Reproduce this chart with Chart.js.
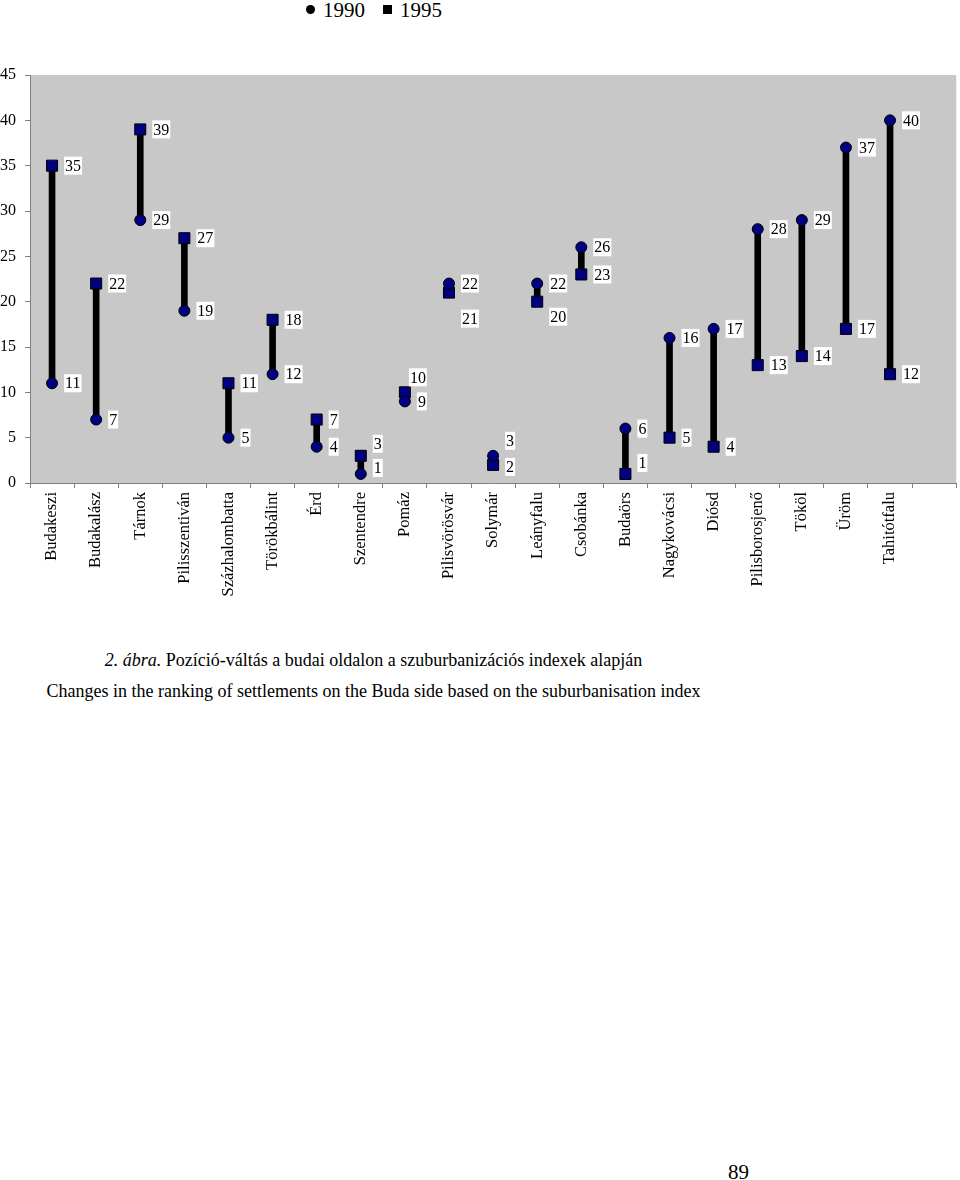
<!DOCTYPE html>
<html>
<head>
<meta charset="utf-8">
<script src="https://cdn.jsdelivr.net/npm/chart.js@4.4.1/dist/chart.umd.min.js"></script>
<style>
  html, body { margin: 0; padding: 0; background: #fff; }
  body { width: 960px; height: 1180px; position: relative; overflow: hidden;
         font-family: 'Liberation Serif', 'Times New Roman', serif; color: #000; }
  #chartBox { position: absolute; left: 0; top: 0; width: 965px; height: 620px; }
  #legend { position: absolute; top: -2px; left: 306px; font-size: 21px; white-space: nowrap; }
  #legend span.item { display: inline-block; }
  #legend span.item + span.item { margin-left: 18px; }
  #legend i.mk { display: inline-block; width: 9px; height: 9px; background: #000; margin-right: 8px; vertical-align: 3px; }
  #legend i.circle { border-radius: 50%; }
  .cap { position: absolute; left: 0; width: 747px; text-align: center; font-size: 18px; white-space: nowrap; }
  #cap1 { top: 650px; }
  #cap2 { top: 681px; }
  #page { position: absolute; left: 728px; top: 1160px; font-size: 21px; }
</style>
</head>
<body>
<div id="legend"><span class="item"><i class="mk circle"></i>1990</span><span class="item"><i class="mk"></i>1995</span></div>
<div id="chartBox"><canvas id="c" width="965" height="620"></canvas></div>
<div class="cap" id="cap1"><i>2. ábra.</i> Pozíció-váltás a budai oldalon a szuburbanizációs indexek alapján</div>
<div class="cap" id="cap2">Changes in the ranking of settlements on the Buda side based on the suburbanisation index</div>
<div id="page">89</div>
<script>
const categories = ['Budakeszi','Budakalász','Tárnok','Pilisszentiván','Százhalombatta','Törökbálint','Érd','Szentendre','Pomáz','Pilisvörösvár','Solymár','Leányfalu','Csobánka','Budaörs','Nagykovácsi','Diósd','Pilisborosjenő','Tököl','Üröm','Tahitótfalu',''];
const values1990 = [11, 7, 29, 19, 5, 12, 4, 1, 9, 22, 3, 22, 26, 6, 16, 17, 28, 29, 37, 40];
const values1995 = [35, 22, 39, 27, 11, 18, 7, 3, 10, 21, 2, 20, 23, 1, 5, 4, 13, 14, 17, 12];
const seriesNames = ['1990', '1995'];
const yTicks = { min: 0, max: 45, step: 5 };

const FONT = "'Liberation Serif', 'Times New Roman', serif";
const ranges = values1990.map((v, i) => [Math.min(v, values1995[i]), Math.max(v, values1995[i])]);

// label pixel nudges: key "seriesIndex:categoryIndex" -> [dx, dy]
const labelNudges = {
  '1:7': [0, -12], '0:7': [0, -6],
  '1:8': [-8, -15],
  '1:9': [0, 26],
  '0:10': [0, -15], '1:10': [0, 2],
  '1:11': [0, 15],
  '1:13': [0, -11]
};

const bgPlugin = {
  id: 'plotBg',
  beforeDraw(chart) {
    const a = chart.chartArea, ctx = chart.ctx;
    ctx.save();
    ctx.fillStyle = '#c8c8c8';
    ctx.fillRect(a.left, a.top, a.right - a.left, a.bottom - a.top);
    ctx.restore();
  }
};

const labelPlugin = {
  id: 'valueLabels',
  afterDatasetsDraw(chart) {
    const ctx = chart.ctx;
    ctx.save();
    ctx.font = '16px ' + FONT;
    ctx.textBaseline = 'middle';
    ctx.textAlign = 'left';
    [0, 1].forEach(s => {
      const ds = chart.data.datasets[s];
      const meta = chart.getDatasetMeta(s);
      ds.data.forEach((v, i) => {
        if (v === null || v === undefined) return;
        const pt = meta.data[i];
        const n = labelNudges[s + ':' + i] || [0, 0];
        const txt = String(v);
        const w = ctx.measureText(txt).width;
        const bx = pt.x + 12 + n[0];
        const by = pt.y + n[1];
        ctx.fillStyle = '#ffffff';
        ctx.fillRect(bx, by - 9, w + 2, 18);
        ctx.fillStyle = '#000000';
        ctx.fillText(txt, bx + 1, by + 1);
      });
    });
    ctx.restore();
  }
};

new Chart(document.getElementById('c'), {
  type: 'bar',
  data: {
    labels: categories,
    datasets: [
      {
        type: 'line', label: seriesNames[0], data: values1990, order: 1,
        showLine: false, pointStyle: 'circle', pointRadius: 5.5,
        pointBackgroundColor: '#000080', pointBorderColor: '#000000', pointBorderWidth: 1
      },
      {
        type: 'line', label: seriesNames[1], data: values1995, order: 2,
        showLine: false, pointStyle: 'rect', pointRadius: 7.8,
        pointBackgroundColor: '#000080', pointBorderColor: '#000000', pointBorderWidth: 1
      },
      {
        type: 'bar', label: 'range', data: ranges, order: 3,
        backgroundColor: '#000000', borderWidth: 0, barThickness: 6
      }
    ]
  },
  options: {
    responsive: false,
    animation: false,
    events: [],
    layout: { padding: { top: 75, left: 0, right: 0, bottom: 0 } },
    plugins: { legend: { display: false }, tooltip: { enabled: false } },
    scales: {
      x: {
        offset: true,
        grid: { offset: true, drawOnChartArea: false, tickLength: 5, color: '#808080' },
        border: { color: '#808080' },
        ticks: { autoSkip: false, minRotation: 90, maxRotation: 90, padding: 4,
                 color: '#000', font: { family: FONT, size: 16.5 } },
        afterFit(scale) { scale.height = 137; }
      },
      y: {
        min: yTicks.min, max: yTicks.max,
        grid: { drawOnChartArea: false, tickLength: 5, color: '#808080' },
        border: { color: '#808080' },
        ticks: { stepSize: yTicks.step, padding: 9, color: '#000', font: { family: FONT, size: 16 } },
        afterFit(scale) { scale.width = 30; }
      }
    }
  },
  plugins: [bgPlugin, labelPlugin]
});
</script>
</body>
</html>
